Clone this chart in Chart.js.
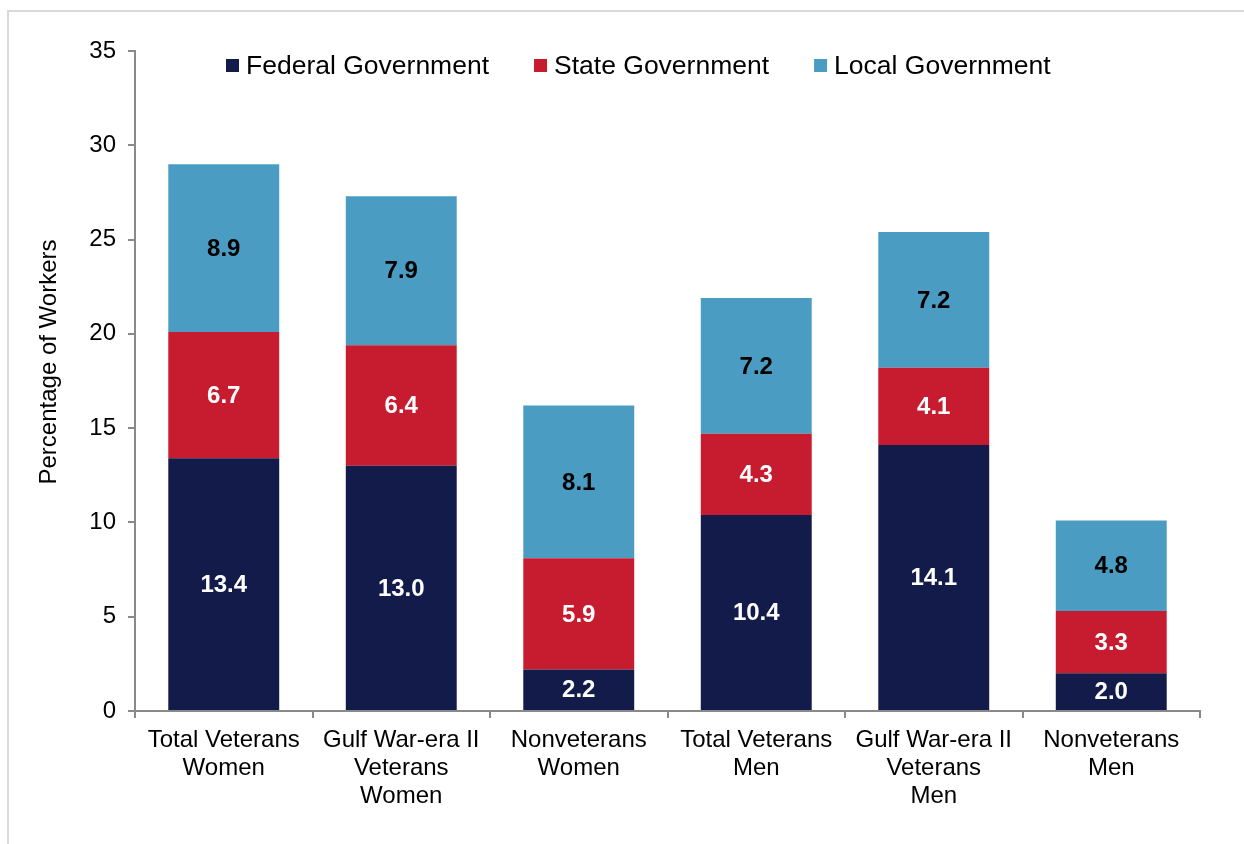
<!DOCTYPE html>
<html>
<head>
<meta charset="utf-8">
<script src="https://cdn.jsdelivr.net/npm/chart.js@4.4.1/dist/chart.umd.min.js"></script>
<style>
  html, body { margin: 0; padding: 0; background: #ffffff; }
  #wrap { position: relative; width: 1244px; height: 844px; overflow: hidden; }
  #frame { position: absolute; left: 7px; top: 10px; right: -10px; bottom: -10px;
           border-left: 2px solid #d9d9d9; border-top: 2px solid #d9d9d9; }
  #chart { position: absolute; left: 0; top: 0; }
</style>
</head>
<body>
<div id="wrap">
  <div id="frame"></div>
  <canvas id="chart" width="1244" height="844"></canvas>
</div>
<script>
// Government employment share of workers, by veteran status and sex
const categories = [
  ['Total Veterans', 'Women'],
  ['Gulf War-era II', 'Veterans', 'Women'],
  ['Nonveterans', 'Women'],
  ['Total Veterans', 'Men'],
  ['Gulf War-era II', 'Veterans', 'Men'],
  ['Nonveterans', 'Men']
];
const federalGov = [13.4, 13.0, 2.2, 10.4, 14.1, 2.0];
const stateGov   = [6.7, 6.4, 5.9, 4.3, 4.1, 3.3];
const localGov   = [8.9, 7.9, 8.1, 7.2, 7.2, 4.8];
const seriesNames = ['Federal Government', 'State Government', 'Local Government'];
const yTicks = [0, 5, 10, 15, 20, 25, 30, 35];
const yTitle = 'Percentage of Workers';

const colors = ['#131b4a', '#c71c2f', '#4a9cc2'];
const labelColors = ['#ffffff', '#ffffff', '#000000'];
const axisGray = '#898989';
const FONT = '"Liberation Sans", Arial, sans-serif';

// Value labels centred inside each stacked segment
const segmentLabels = {
  id: 'segmentLabels',
  afterDatasetsDraw(chart) {
    const ctx = chart.ctx;
    ctx.save();
    ctx.font = 'bold 24px ' + FONT;
    ctx.textAlign = 'center';
    ctx.textBaseline = 'middle';
    chart.data.datasets.forEach((ds, di) => {
      const meta = chart.getDatasetMeta(di);
      meta.data.forEach((el, i) => {
        const p = el.getProps(['x', 'y', 'base'], true);
        ctx.fillStyle = labelColors[di];
        ctx.fillText(ds.data[i].toFixed(1), p.x, (p.y + p.base) / 2 + 1);
      });
    });
    ctx.restore();
  }
};

// Legend row drawn inside the plot area, plus the rotated y-axis title
const overlayText = {
  id: 'overlayText',
  afterDraw(chart) {
    const ctx = chart.ctx;
    const area = chart.chartArea;
    ctx.save();
    ctx.font = '26.5px ' + FONT;
    ctx.textBaseline = 'middle';
    ctx.textAlign = 'left';
    let x = area.left + 91;
    const y = area.top + 14.5;
    seriesNames.forEach((name, i) => {
      ctx.fillStyle = colors[i];
      ctx.fillRect(x, y - 6.5, 13, 13);
      ctx.fillStyle = '#000000';
      ctx.fillText(name, x + 20, y + 1);
      x += 20 + ctx.measureText(name).width + 45;
    });
    ctx.font = '24px ' + FONT;
    ctx.textAlign = 'center';
    ctx.translate(49, (area.top + area.bottom) / 2 - 19);
    ctx.rotate(-Math.PI / 2);
    ctx.fillText(yTitle, 0, 0);
    ctx.restore();
  }
};

new Chart(document.getElementById('chart'), {
  type: 'bar',
  data: {
    labels: categories,
    datasets: [
      { label: seriesNames[0], data: federalGov, backgroundColor: colors[0] },
      { label: seriesNames[1], data: stateGov, backgroundColor: colors[1] },
      { label: seriesNames[2], data: localGov, backgroundColor: colors[2] }
    ]
  },
  options: {
    responsive: false,
    animation: false,
    layout: { padding: { left: 0, top: 51, right: 44, bottom: 0 } },
    datasets: { bar: { barPercentage: 1, categoryPercentage: 0.625, borderWidth: 0 } },
    plugins: { legend: { display: false }, tooltip: { enabled: false } },
    scales: {
      x: {
        stacked: true,
        afterFit(scale) { scale.height = 133; },
        grid: { display: true, drawOnChartArea: false, drawTicks: true, tickLength: 7,
                color: axisGray, lineWidth: 2, offset: true },
        border: { display: true, color: axisGray, width: 2 },
        ticks: { color: '#000000', padding: 8, maxRotation: 0, autoSkip: false,
                 font: { family: FONT, size: 24, lineHeight: 1.17 } }
      },
      y: {
        stacked: true,
        min: 0,
        max: 35,
        afterFit(scale) { scale.width = 135; },
        afterBuildTicks(scale) { scale.ticks = yTicks.map(v => ({ value: v })); },
        grid: { display: true, drawOnChartArea: false, drawTicks: true, tickLength: 7,
                color: axisGray, lineWidth: 2 },
        border: { display: true, color: axisGray, width: 2 },
        ticks: { color: '#000000', padding: 12, font: { family: FONT, size: 24 } }
      }
    }
  },
  plugins: [segmentLabels, overlayText]
});
</script>
</body>
</html>
